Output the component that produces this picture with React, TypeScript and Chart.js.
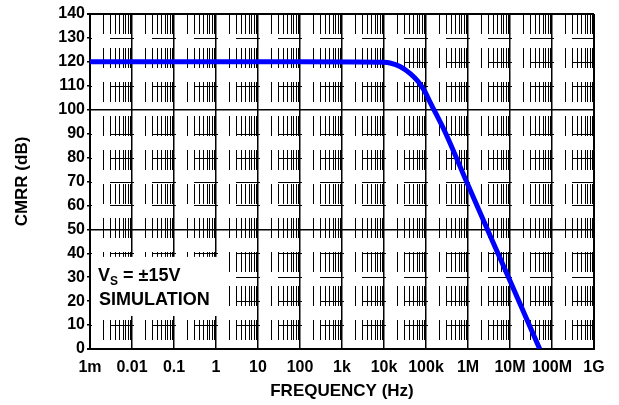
import React, { useEffect, useRef } from "react";
import { Chart, registerables } from "chart.js";

Chart.register(...registerables);

// ---- data ----
const freqHz = [1e-3, 1e2, 1e4, 1.39e4, 2.4e4, 4.16e4, 6.56e4, 9.46e4, 1.24e5, 1.79e5, 2.83e5, 1e6, 1e7, 5.1e7];
const cmrrDb = [120, 120, 119.8, 119.5, 118.1, 115.2, 111.7, 107.5, 103.3, 97.8, 90.8, 68.5, 28.5, 0];

const decadeTicks = [1e-3, 1e-2, 0.1, 1, 10, 100, 1e3, 1e4, 1e5, 1e6, 1e7, 1e8, 1e9];
const decadeLabels = ["1m", "0.01", "0.1", "1", "10", "100", "1k", "10k", "100k", "1M", "10M", "100M", "1G"];
const yTicks = [0, 10, 20, 30, 40, 50, 60, 70, 80, 90, 100, 110, 120, 130, 140];
const solidYLines = [0, 50, 100, 140];
const minorMultipliers = [2, 3, 4, 5, 6, 7, 8, 9];

const noteMain = "V";
const noteSub = "S";
const noteRest = " = \u00B115V";
const noteLine2 = "SIMULATION";

const FONT = "'Liberation Sans', Arial, Helvetica, sans-serif";

const gridPlugin = {
  id: "customGrid",
  beforeDatasetsDraw(chart: any) {
    const { ctx, chartArea: a, scales } = chart;
    const x = scales.x;
    const y = scales.y;
    ctx.save();
    ctx.beginPath();
    ctx.rect(a.left, a.top, a.right - a.left, a.bottom - a.top);
    ctx.clip();
    ctx.strokeStyle = "#000";
    ctx.lineWidth = 1;

    // minor vertical dashed lines
    ctx.setLineDash([20, 14]);
    ctx.lineDashOffset = 0;
    ctx.beginPath();
    for (let i = 0; i < decadeTicks.length - 1; i++) {
      for (const m of minorMultipliers) {
        const px = Math.round(x.getPixelForValue(decadeTicks[i] * m)) + 0.5;
        ctx.moveTo(px, a.top);
        ctx.lineTo(px, a.bottom);
      }
    }
    ctx.stroke();

    // dashed horizontal lines
    ctx.setLineDash([24, 18]);
    ctx.lineDashOffset = 22;
    ctx.beginPath();
    for (const v of yTicks) {
      if (solidYLines.includes(v)) continue;
      const py = Math.round(y.getPixelForValue(v)) + 0.5;
      ctx.moveTo(a.left, py);
      ctx.lineTo(a.right, py);
    }
    ctx.stroke();

    // white note box
    ctx.setLineDash([]);
    ctx.fillStyle = "#fff";
    const bx0 = a.left + 1;
    const bx1 = x.getPixelForValue(1.3);
    const by0 = y.getPixelForValue(38.5);
    const by1 = y.getPixelForValue(13.8);
    ctx.fillRect(bx0, by0, bx1 - bx0, by1 - by0);

    // note text
    ctx.fillStyle = "#000";
    ctx.textBaseline = "alphabetic";
    ctx.textAlign = "left";
    let tx = a.left + 8;
    const base1 = by0 + 24;
    const base2 = by0 + 48;
    ctx.font = `bold 18px ${FONT}`;
    ctx.fillText(noteMain, tx, base1);
    tx += ctx.measureText(noteMain).width;
    ctx.font = `bold 12px ${FONT}`;
    ctx.fillText(noteSub, tx, base1 + 4);
    tx += ctx.measureText(noteSub).width;
    ctx.font = `bold 18px ${FONT}`;
    ctx.fillText(noteRest, tx, base1);
    ctx.fillText(noteLine2, a.left + 9, base2);
    ctx.restore();
  },
};

export default function App() {
  const canvasRef = useRef<HTMLCanvasElement>(null);

  useEffect(() => {
    if (!canvasRef.current) return;
    const chart = new Chart(canvasRef.current, {
      type: "line",
      data: {
        datasets: [
          {
            data: freqHz.map((f, i) => ({ x: f, y: cmrrDb[i] })),
            borderColor: "#0000ff",
            borderWidth: 5,
            pointRadius: 0,
            fill: false,
            cubicInterpolationMode: "monotone",
            borderCapStyle: "butt",
          },
        ],
      },
      options: {
        animation: false,
        responsive: false,
        events: [],
        layout: { padding: { left: 0, top: 14, right: 25, bottom: 0 } },
        plugins: { legend: { display: false }, tooltip: { enabled: false } },
        scales: {
          x: {
            type: "logarithmic",
            min: 1e-3,
            max: 1e9,
            afterBuildTicks: (s: any) => {
              s.ticks = decadeTicks.map((v) => ({ value: v }));
            },
            afterFit: (s: any) => {
              s.height = 56;
            },
            ticks: {
              autoSkip: false,
              maxRotation: 0,
              color: "#000",
              padding: 9,
              font: { family: FONT, size: 16, weight: "bold" },
              callback: (_v: any, i: number) => decadeLabels[i],
            },
            grid: {
              color: "#000",
              lineWidth: (c: any) => (c.index === 0 || c.index === decadeTicks.length - 1 ? 2 : 1.5),
              drawTicks: false,
            },
            border: { display: true, color: "#000", width: 2 },
            title: {
              display: true,
              text: "FREQUENCY (Hz)",
              color: "#000",
              font: { family: FONT, size: 17, weight: "bold" },
              padding: { top: 0, bottom: 3 },
            },
          },
          y: {
            type: "linear",
            min: 0,
            max: 140,
            afterFit: (s: any) => {
              s.width = 90;
            },
            ticks: {
              stepSize: 10,
              color: "#000",
              padding: 2,
              font: { family: FONT, size: 16, weight: "bold" },
            },
            grid: {
              color: (c: any) => (solidYLines.includes(c.tick?.value) ? "#000" : "rgba(0,0,0,0)"),
              lineWidth: (c: any) => (c.tick?.value === 140 || c.tick?.value === 0 ? 2 : 1.5),
              tickColor: "#000",
              tickLength: 3,
              drawTicks: true,
            },
            border: { display: true, color: "#000", width: 2 },
            title: {
              display: true,
              text: "CMRR (dB)",
              color: "#000",
              font: { family: FONT, size: 17, weight: "bold" },
              padding: { top: 12, bottom: 0 },
            },
          },
        },
      },
      plugins: [gridPlugin],
    } as any);
    return () => chart.destroy();
  }, []);

  return (
    <div style={{ position: "fixed", left: 0, top: 0, width: 619, height: 405, background: "#fff" }}>
      <canvas ref={canvasRef} width={619} height={405} />
    </div>
  );
}
